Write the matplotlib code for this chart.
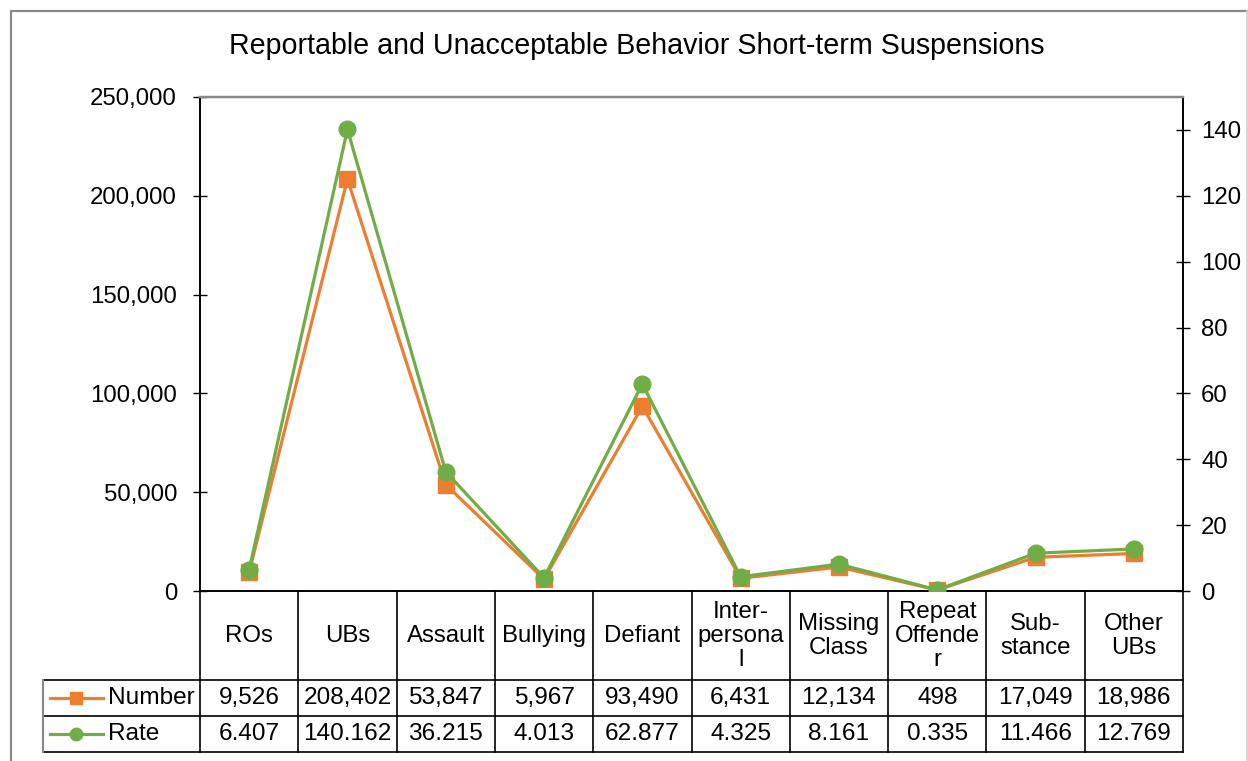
import matplotlib.pyplot as plt
import matplotlib.ticker as mticker
import matplotlib.transforms as mtransforms
from matplotlib.lines import Line2D

plt.rcParams['font.family'] = ['Liberation Sans', 'DejaVu Sans']

# Suspension counts and rates per category
categories = ['ROs', 'UBs', 'Assault', 'Bullying', 'Defiant', 'Inter-\npersona\nl',
              'Missing\nClass', 'Repeat\nOffende\nr', 'Sub-\nstance', 'Other\nUBs']
number = [9526, 208402, 53847, 5967, 93490, 6431, 12134, 498, 17049, 18986]
rate = [6.407, 140.162, 36.215, 4.013, 62.877, 4.325, 8.161, 0.335, 11.466, 12.769]

orange = '#ED7D31'
green = '#70AD47'
W, H = 1248, 761
FS = 17.3

def fx(x):
    return x / W

def fy(y):
    return 1 - y / H

fig = plt.figure(figsize=(W / 100, H / 100), dpi=100)

# chart border
fig.add_artist(Line2D([fx(11), fx(11), fx(1247)], [fy(761), fy(11), fy(11)],
                      transform=fig.transFigure, color='#898989', lw=1.6))
fig.add_artist(Line2D([fx(1247), fx(1247)], [fy(11), fy(761)],
                      transform=fig.transFigure, color='#d0d0d0', lw=1.2))

ax = fig.add_axes([fx(200), fy(591), fx(1183) - fx(200), fy(97) - fy(591)])
x = list(range(len(categories)))
ax.plot(x, number, color=orange, lw=2.3, marker='s', ms=11, zorder=3)
ax.set_xlim(-0.5, len(categories) - 0.5)
ax.set_ylim(0, 250000)
ax.yaxis.set_major_locator(mticker.MultipleLocator(50000))
ax.yaxis.set_major_formatter(mticker.StrMethodFormatter('{x:,.0f}'))
ax.set_xticks([])
ax.tick_params(axis='y', direction='inout', length=10, width=1, labelsize=FS, pad=11.5)

ax2 = ax.twinx()
ax2.plot(x, rate, color=green, lw=2.3, marker='o', ms=12, zorder=3)
ax2.set_ylim(0, 150)
ax2.yaxis.set_major_locator(mticker.FixedLocator(range(0, 141, 20)))
ax2.tick_params(axis='y', direction='inout', length=10, width=1, labelsize=FS, pad=8)

for a in (ax, ax2):
    a.spines['top'].set_color('#898989')
    a.spines['top'].set_linewidth(1.6)
    for s in ('left', 'right', 'bottom'):
        a.spines[s].set_linewidth(1.2)
        a.spines[s].set_color('black')

fig.text(fx(637), fy(46), 'Reportable and Unacceptable Behavior Short-term Suspensions',
         ha='center', va='center', fontsize=20.6)

# data table under the plot
trans = mtransforms.blended_transform_factory(ax.transData, fig.transFigure)
n = len(categories)
leg_left = -0.5 - (200 - 43) / (983 / n)
for k in range(n + 1):
    fig.add_artist(Line2D([k - 0.5, k - 0.5], [fy(591), fy(752)], transform=trans,
                          color='black', lw=1.2))
for yy in (680, 716, 752):
    fig.add_artist(Line2D([leg_left, n - 0.5], [fy(yy), fy(yy)], transform=trans,
                          color='black', lw=1.2))
fig.add_artist(Line2D([leg_left, leg_left], [fy(680), fy(752)], transform=trans,
                      color='#898989', lw=1.6))

for i, c in enumerate(categories):
    fig.text(i, fy(636), c, transform=trans, ha='center', va='center',
             fontsize=FS, linespacing=1.12)
    fig.text(i, fy(698), f'{number[i]:,}', transform=trans, ha='center', va='center',
             fontsize=FS + 0.3)
    fig.text(i, fy(734), f'{rate[i]:.3f}', transform=trans, ha='center', va='center',
             fontsize=FS + 0.3)

# legend keys inside the table
for yy, col, mk, ms, label in ((698, orange, 's', 9, 'Number'), (734, green, 'o', 9, 'Rate')):
    fig.add_artist(Line2D([fx(50), fx(103)], [fy(yy), fy(yy)], transform=fig.transFigure,
                          color=col, lw=2.3))
    fig.add_artist(Line2D([fx(76)], [fy(yy)], transform=fig.transFigure,
                          color=col, marker=mk, ms=ms, lw=0))
    fig.text(fx(108), fy(yy), label, ha='left', va='center', fontsize=FS + 0.3)

fig.savefig('out.png', dpi=100)
